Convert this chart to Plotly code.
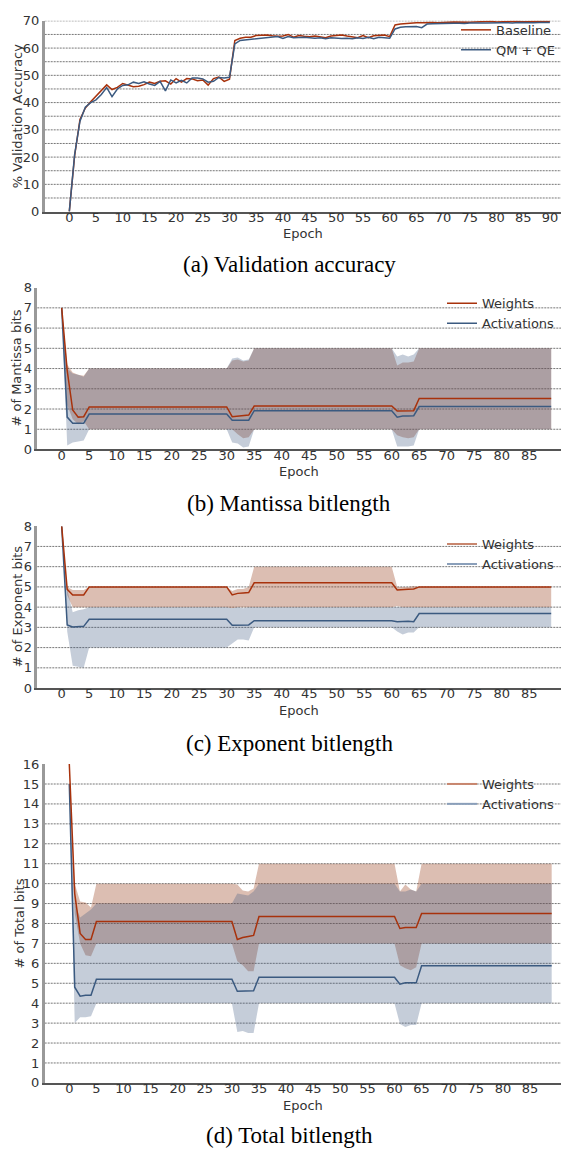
import plotly.graph_objects as go

# ---------------- data ----------------
epochs_acc = list(range(91))

acc_baseline = [
    0.0, 20.5, 33.8, 38.0, 40.3, 42.3, 44.5, 46.5, 44.8, 45.6, 47.0,
    46.3, 45.8, 46.0, 46.6, 47.5, 47.0, 47.8, 48.0, 46.8, 48.8,
    47.5, 48.8, 48.7, 48.0, 48.3, 46.4, 48.8, 49.4, 47.8, 48.6,
    62.8, 63.6, 64.0, 64.0, 64.6, 64.8, 64.8, 64.5, 64.3, 64.4,
    65.0, 64.0, 64.6, 64.3, 64.2, 64.4, 64.1, 63.8, 64.4, 64.7,
    64.8, 64.4, 64.0, 63.8, 64.6, 63.8, 64.5, 64.6, 64.8, 64.2,
    68.5, 68.8, 69.0, 69.2, 69.3, 69.3, 69.4, 69.4, 69.3, 69.5,
    69.5, 69.6, 69.5, 69.6, 69.5, 69.6, 69.7, 69.6, 69.8, 69.6,
    69.7, 69.8, 69.7, 69.8, 69.7, 69.8, 69.7, 69.8, 69.8, 69.8,
]

acc_qm_qe = [
    0.0, 21.0, 33.2, 38.3, 40.0, 41.0, 43.0, 45.5, 42.2, 45.0, 46.3,
    46.5, 47.5, 47.0, 47.6, 46.8, 46.3, 47.8, 44.3, 48.3, 47.2,
    48.2, 47.2, 49.0, 49.0, 48.7, 47.5, 47.8, 49.2, 49.0, 49.3,
    61.5, 62.8, 63.0, 63.2, 63.3, 63.6, 63.8, 64.0, 64.2, 63.5,
    64.2, 63.8, 64.0, 64.0, 63.8, 63.6, 63.8, 63.4, 63.8, 63.6,
    63.5, 63.6, 63.4, 63.8, 63.5, 64.0, 63.4, 64.0, 63.8, 63.6,
    67.0, 67.6, 67.8, 67.9, 67.9, 67.5, 68.8, 68.9, 69.0, 69.0,
    69.0, 69.1, 69.1, 69.0, 69.2, 69.1, 69.2, 69.2, 69.3, 69.2,
    69.3, 69.3, 69.2, 69.4, 69.3, 69.4, 69.3, 69.4, 69.4, 69.4,
]

epochs_bits = list(range(90))

# mantissa bits: weights
mant_w_mean = [
    7.0, 3.9, 1.95, 1.6, 1.62,
    2.1, 2.1, 2.1, 2.1, 2.1, 2.1, 2.1, 2.1, 2.1, 2.1, 2.1, 2.1, 2.1,
    2.1, 2.1, 2.1, 2.1, 2.1, 2.1, 2.1, 2.1, 2.1, 2.1, 2.1, 2.1, 2.1,
    1.62, 1.65, 1.67, 1.7,
    2.15, 2.15, 2.15, 2.15, 2.15, 2.15, 2.15, 2.15, 2.15, 2.15, 2.15, 2.15, 2.15,
    2.15, 2.15, 2.15, 2.15, 2.15, 2.15, 2.15, 2.15, 2.15, 2.15, 2.15, 2.15, 2.15,
    1.9, 1.9, 1.9, 1.92,
    2.52, 2.52, 2.52, 2.52, 2.52, 2.52, 2.52, 2.52, 2.52, 2.52, 2.52, 2.52, 2.52,
    2.52, 2.52, 2.52, 2.52, 2.52, 2.52, 2.52, 2.52, 2.52, 2.52, 2.52, 2.52,
]
mant_w_lo = [
    7.0, 2.2, 1.5, 1.25, 1.4,
    1.0, 1.0, 1.0, 1.0, 1.0, 1.0, 1.0, 1.0, 1.0, 1.0, 1.0, 1.0, 1.0,
    1.0, 1.0, 1.0, 1.0, 1.0, 1.0, 1.0, 1.0, 1.0, 1.0, 1.0, 1.0, 1.0,
    1.0, 0.75, 0.55, 0.6,
    1.0, 1.0, 1.0, 1.0, 1.0, 1.0, 1.0, 1.0, 1.0, 1.0, 1.0, 1.0, 1.0,
    1.0, 1.0, 1.0, 1.0, 1.0, 1.0, 1.0, 1.0, 1.0, 1.0, 1.0, 1.0, 1.0,
    0.7, 0.6, 0.55, 0.6,
    1.0, 1.0, 1.0, 1.0, 1.0, 1.0, 1.0, 1.0, 1.0, 1.0, 1.0, 1.0, 1.0,
    1.0, 1.0, 1.0, 1.0, 1.0, 1.0, 1.0, 1.0, 1.0, 1.0, 1.0, 1.0,
]
mant_w_hi = [
    7.0, 4.2, 3.8, 3.7, 3.65,
    4.0, 4.0, 4.0, 4.0, 4.0, 4.0, 4.0, 4.0, 4.0, 4.0, 4.0, 4.0, 4.0,
    4.0, 4.0, 4.0, 4.0, 4.0, 4.0, 4.0, 4.0, 4.0, 4.0, 4.0, 4.0, 4.0,
    4.4, 4.45, 4.35, 4.4,
    5.0, 5.0, 5.0, 5.0, 5.0, 5.0, 5.0, 5.0, 5.0, 5.0, 5.0, 5.0, 5.0,
    5.0, 5.0, 5.0, 5.0, 5.0, 5.0, 5.0, 5.0, 5.0, 5.0, 5.0, 5.0, 5.0,
    4.15, 4.3, 4.3, 4.35,
    5.0, 5.0, 5.0, 5.0, 5.0, 5.0, 5.0, 5.0, 5.0, 5.0, 5.0, 5.0, 5.0,
    5.0, 5.0, 5.0, 5.0, 5.0, 5.0, 5.0, 5.0, 5.0, 5.0, 5.0, 5.0,
]
# mantissa bits: activations
mant_a_mean = [
    7.0, 1.6, 1.3, 1.3, 1.3,
    1.75, 1.75, 1.75, 1.75, 1.75, 1.75, 1.75, 1.75, 1.75, 1.75, 1.75, 1.75, 1.75,
    1.75, 1.75, 1.75, 1.75, 1.75, 1.75, 1.75, 1.75, 1.75, 1.75, 1.75, 1.75, 1.75,
    1.45, 1.45, 1.42, 1.45,
    1.92, 1.92, 1.92, 1.92, 1.92, 1.92, 1.92, 1.92, 1.92, 1.92, 1.92, 1.92, 1.92,
    1.92, 1.92, 1.92, 1.92, 1.92, 1.92, 1.92, 1.92, 1.92, 1.92, 1.92, 1.92, 1.92,
    1.6, 1.65, 1.65, 1.67,
    2.12, 2.12, 2.12, 2.12, 2.12, 2.12, 2.12, 2.12, 2.12, 2.12, 2.12, 2.12, 2.12,
    2.12, 2.12, 2.12, 2.12, 2.12, 2.12, 2.12, 2.12, 2.12, 2.12, 2.12, 2.12,
]
mant_a_lo = [
    7.0, 0.2, 0.35, 0.4, 0.45,
    1.0, 1.0, 1.0, 1.0, 1.0, 1.0, 1.0, 1.0, 1.0, 1.0, 1.0, 1.0, 1.0,
    1.0, 1.0, 1.0, 1.0, 1.0, 1.0, 1.0, 1.0, 1.0, 1.0, 1.0, 1.0, 1.0,
    0.35, 0.3, 0.1, 0.15,
    1.0, 1.0, 1.0, 1.0, 1.0, 1.0, 1.0, 1.0, 1.0, 1.0, 1.0, 1.0, 1.0,
    1.0, 1.0, 1.0, 1.0, 1.0, 1.0, 1.0, 1.0, 1.0, 1.0, 1.0, 1.0, 1.0,
    0.15, 0.15, 0.15, 0.2,
    1.0, 1.0, 1.0, 1.0, 1.0, 1.0, 1.0, 1.0, 1.0, 1.0, 1.0, 1.0, 1.0,
    1.0, 1.0, 1.0, 1.0, 1.0, 1.0, 1.0, 1.0, 1.0, 1.0, 1.0, 1.0,
]
mant_a_hi = [
    7.0, 4.0, 3.75, 3.7, 3.6,
    4.0, 4.0, 4.0, 4.0, 4.0, 4.0, 4.0, 4.0, 4.0, 4.0, 4.0, 4.0, 4.0,
    4.0, 4.0, 4.0, 4.0, 4.0, 4.0, 4.0, 4.0, 4.0, 4.0, 4.0, 4.0, 4.0,
    4.5, 4.55, 4.4, 4.45,
    5.0, 5.0, 5.0, 5.0, 5.0, 5.0, 5.0, 5.0, 5.0, 5.0, 5.0, 5.0, 5.0,
    5.0, 5.0, 5.0, 5.0, 5.0, 5.0, 5.0, 5.0, 5.0, 5.0, 5.0, 5.0, 5.0,
    4.6, 4.7, 4.6, 4.7,
    5.0, 5.0, 5.0, 5.0, 5.0, 5.0, 5.0, 5.0, 5.0, 5.0, 5.0, 5.0, 5.0,
    5.0, 5.0, 5.0, 5.0, 5.0, 5.0, 5.0, 5.0, 5.0, 5.0, 5.0, 5.0,
]

# exponent bits: weights
exp_w_mean = [
    8.0, 4.88, 4.6, 4.6, 4.6,
    5.0, 5.0, 5.0, 5.0, 5.0, 5.0, 5.0, 5.0, 5.0, 5.0, 5.0, 5.0, 5.0,
    5.0, 5.0, 5.0, 5.0, 5.0, 5.0, 5.0, 5.0, 5.0, 5.0, 5.0, 5.0, 5.0,
    4.6, 4.68, 4.7, 4.72,
    5.2, 5.2, 5.2, 5.2, 5.2, 5.2, 5.2, 5.2, 5.2, 5.2, 5.2, 5.2, 5.2,
    5.2, 5.2, 5.2, 5.2, 5.2, 5.2, 5.2, 5.2, 5.2, 5.2, 5.2, 5.2, 5.2,
    4.85, 4.88, 4.88, 4.9,
    5.0, 5.0, 5.0, 5.0, 5.0, 5.0, 5.0, 5.0, 5.0, 5.0, 5.0, 5.0, 5.0,
    5.0, 5.0, 5.0, 5.0, 5.0, 5.0, 5.0, 5.0, 5.0, 5.0, 5.0, 5.0,
]
exp_w_lo = [
    8.0, 4.6, 4.0, 4.0, 4.0,
    4.0, 4.0, 4.0, 4.0, 4.0, 4.0, 4.0, 4.0, 4.0, 4.0, 4.0, 4.0, 4.0,
    4.0, 4.0, 4.0, 4.0, 4.0, 4.0, 4.0, 4.0, 4.0, 4.0, 4.0, 4.0, 4.0,
    3.95, 4.0, 4.0, 4.0,
    4.0, 4.0, 4.0, 4.0, 4.0, 4.0, 4.0, 4.0, 4.0, 4.0, 4.0, 4.0, 4.0,
    4.0, 4.0, 4.0, 4.0, 4.0, 4.0, 4.0, 4.0, 4.0, 4.0, 4.0, 4.0, 4.0,
    4.05, 4.0, 4.0, 4.0,
    4.0, 4.0, 4.0, 4.0, 4.0, 4.0, 4.0, 4.0, 4.0, 4.0, 4.0, 4.0, 4.0,
    4.0, 4.0, 4.0, 4.0, 4.0, 4.0, 4.0, 4.0, 4.0, 4.0, 4.0, 4.0,
]
exp_w_hi = [
    8.0, 5.0, 4.85, 4.85, 4.85,
    5.0, 5.0, 5.0, 5.0, 5.0, 5.0, 5.0, 5.0, 5.0, 5.0, 5.0, 5.0, 5.0,
    5.0, 5.0, 5.0, 5.0, 5.0, 5.0, 5.0, 5.0, 5.0, 5.0, 5.0, 5.0, 5.0,
    4.8, 4.9, 4.9, 5.0,
    6.0, 6.0, 6.0, 6.0, 6.0, 6.0, 6.0, 6.0, 6.0, 6.0, 6.0, 6.0, 6.0,
    6.0, 6.0, 6.0, 6.0, 6.0, 6.0, 6.0, 6.0, 6.0, 6.0, 6.0, 6.0, 6.0,
    5.0, 5.0, 5.0, 5.05,
    5.0, 5.0, 5.0, 5.0, 5.0, 5.0, 5.0, 5.0, 5.0, 5.0, 5.0, 5.0, 5.0,
    5.0, 5.0, 5.0, 5.0, 5.0, 5.0, 5.0, 5.0, 5.0, 5.0, 5.0, 5.0,
]
# exponent bits: activations
exp_a_mean = [
    8.0, 3.12, 3.02, 3.03, 3.05,
    3.4, 3.4, 3.4, 3.4, 3.4, 3.4, 3.4, 3.4, 3.4, 3.4, 3.4, 3.4, 3.4,
    3.4, 3.4, 3.4, 3.4, 3.4, 3.4, 3.4, 3.4, 3.4, 3.4, 3.4, 3.4, 3.4,
    3.1, 3.1, 3.1, 3.12,
    3.33, 3.33, 3.33, 3.33, 3.33, 3.33, 3.33, 3.33, 3.33, 3.33, 3.33, 3.33, 3.33,
    3.33, 3.33, 3.33, 3.33, 3.33, 3.33, 3.33, 3.33, 3.33, 3.33, 3.33, 3.33, 3.33,
    3.28, 3.3, 3.3, 3.28,
    3.68, 3.68, 3.68, 3.68, 3.68, 3.68, 3.68, 3.68, 3.68, 3.68, 3.68, 3.68, 3.68,
    3.68, 3.68, 3.68, 3.68, 3.68, 3.68, 3.68, 3.68, 3.68, 3.68, 3.68, 3.68,
]
exp_a_lo = [
    8.0, 2.8, 1.1, 1.05, 1.0,
    2.0, 2.0, 2.0, 2.0, 2.0, 2.0, 2.0, 2.0, 2.0, 2.0, 2.0, 2.0, 2.0,
    2.0, 2.0, 2.0, 2.0, 2.0, 2.0, 2.0, 2.0, 2.0, 2.0, 2.0, 2.0, 2.0,
    2.2, 2.4, 2.4, 2.35,
    3.0, 3.0, 3.0, 3.0, 3.0, 3.0, 3.0, 3.0, 3.0, 3.0, 3.0, 3.0, 3.0,
    3.0, 3.0, 3.0, 3.0, 3.0, 3.0, 3.0, 3.0, 3.0, 3.0, 3.0, 3.0, 3.0,
    2.8, 2.65, 2.75, 2.75,
    3.0, 3.0, 3.0, 3.0, 3.0, 3.0, 3.0, 3.0, 3.0, 3.0, 3.0, 3.0, 3.0,
    3.0, 3.0, 3.0, 3.0, 3.0, 3.0, 3.0, 3.0, 3.0, 3.0, 3.0, 3.0,
]
exp_a_hi = [
    8.0, 4.9, 3.75, 3.85, 3.9,
    4.0, 4.0, 4.0, 4.0, 4.0, 4.0, 4.0, 4.0, 4.0, 4.0, 4.0, 4.0, 4.0,
    4.0, 4.0, 4.0, 4.0, 4.0, 4.0, 4.0, 4.0, 4.0, 4.0, 4.0, 4.0, 4.0,
    3.95, 4.0, 3.95, 4.0,
    4.0, 4.0, 4.0, 4.0, 4.0, 4.0, 4.0, 4.0, 4.0, 4.0, 4.0, 4.0, 4.0,
    4.0, 4.0, 4.0, 4.0, 4.0, 4.0, 4.0, 4.0, 4.0, 4.0, 4.0, 4.0, 4.0,
    4.0, 4.0, 4.0, 4.0,
    4.0, 4.0, 4.0, 4.0, 4.0, 4.0, 4.0, 4.0, 4.0, 4.0, 4.0, 4.0, 4.0,
    4.0, 4.0, 4.0, 4.0, 4.0, 4.0, 4.0, 4.0, 4.0, 4.0, 4.0, 4.0,
]

# total bits: weights
tot_w_mean = [
    16.0, 9.5, 7.5, 7.2, 7.2,
    8.1, 8.1, 8.1, 8.1, 8.1, 8.1, 8.1, 8.1, 8.1, 8.1, 8.1, 8.1, 8.1,
    8.1, 8.1, 8.1, 8.1, 8.1, 8.1, 8.1, 8.1, 8.1, 8.1, 8.1, 8.1, 8.1,
    7.2, 7.3, 7.35, 7.4,
    8.35, 8.35, 8.35, 8.35, 8.35, 8.35, 8.35, 8.35, 8.35, 8.35, 8.35, 8.35, 8.35,
    8.35, 8.35, 8.35, 8.35, 8.35, 8.35, 8.35, 8.35, 8.35, 8.35, 8.35, 8.35, 8.35,
    7.75, 7.8, 7.8, 7.8,
    8.5, 8.5, 8.5, 8.5, 8.5, 8.5, 8.5, 8.5, 8.5, 8.5, 8.5, 8.5, 8.5,
    8.5, 8.5, 8.5, 8.5, 8.5, 8.5, 8.5, 8.5, 8.5, 8.5, 8.5, 8.5,
]
tot_w_lo = [
    16.0, 8.5, 7.0, 6.4, 6.35,
    7.0, 7.0, 7.0, 7.0, 7.0, 7.0, 7.0, 7.0, 7.0, 7.0, 7.0, 7.0, 7.0,
    7.0, 7.0, 7.0, 7.0, 7.0, 7.0, 7.0, 7.0, 7.0, 7.0, 7.0, 7.0, 7.0,
    6.1, 5.9, 5.6, 5.6,
    7.0, 7.0, 7.0, 7.0, 7.0, 7.0, 7.0, 7.0, 7.0, 7.0, 7.0, 7.0, 7.0,
    7.0, 7.0, 7.0, 7.0, 7.0, 7.0, 7.0, 7.0, 7.0, 7.0, 7.0, 7.0, 7.0,
    5.9, 5.75, 5.65, 5.8,
    7.0, 7.0, 7.0, 7.0, 7.0, 7.0, 7.0, 7.0, 7.0, 7.0, 7.0, 7.0, 7.0,
    7.0, 7.0, 7.0, 7.0, 7.0, 7.0, 7.0, 7.0, 7.0, 7.0, 7.0, 7.0,
]
tot_w_hi = [
    16.0, 10.0, 9.1, 9.05, 8.8,
    10.0, 10.0, 10.0, 10.0, 10.0, 10.0, 10.0, 10.0, 10.0, 10.0, 10.0, 10.0, 10.0,
    10.0, 10.0, 10.0, 10.0, 10.0, 10.0, 10.0, 10.0, 10.0, 10.0, 10.0, 10.0, 10.0,
    9.95, 9.65, 9.6, 9.75,
    11.0, 11.0, 11.0, 11.0, 11.0, 11.0, 11.0, 11.0, 11.0, 11.0, 11.0, 11.0, 11.0,
    11.0, 11.0, 11.0, 11.0, 11.0, 11.0, 11.0, 11.0, 11.0, 11.0, 11.0, 11.0, 11.0,
    9.6, 9.95, 9.7, 9.6,
    11.0, 11.0, 11.0, 11.0, 11.0, 11.0, 11.0, 11.0, 11.0, 11.0, 11.0, 11.0, 11.0,
    11.0, 11.0, 11.0, 11.0, 11.0, 11.0, 11.0, 11.0, 11.0, 11.0, 11.0, 11.0,
]
# total bits: activations
tot_a_mean = [
    15.0, 4.8, 4.35, 4.4, 4.4,
    5.2, 5.2, 5.2, 5.2, 5.2, 5.2, 5.2, 5.2, 5.2, 5.2, 5.2, 5.2, 5.2,
    5.2, 5.2, 5.2, 5.2, 5.2, 5.2, 5.2, 5.2, 5.2, 5.2, 5.2, 5.2, 5.2,
    4.6, 4.6, 4.6, 4.62,
    5.3, 5.3, 5.3, 5.3, 5.3, 5.3, 5.3, 5.3, 5.3, 5.3, 5.3, 5.3, 5.3,
    5.3, 5.3, 5.3, 5.3, 5.3, 5.3, 5.3, 5.3, 5.3, 5.3, 5.3, 5.3, 5.3,
    4.95, 5.02, 5.02, 5.02,
    5.88, 5.88, 5.88, 5.88, 5.88, 5.88, 5.88, 5.88, 5.88, 5.88, 5.88, 5.88, 5.88,
    5.88, 5.88, 5.88, 5.88, 5.88, 5.88, 5.88, 5.88, 5.88, 5.88, 5.88, 5.88,
]
tot_a_lo = [
    15.0, 3.0, 3.3, 3.3, 3.35,
    4.0, 4.0, 4.0, 4.0, 4.0, 4.0, 4.0, 4.0, 4.0, 4.0, 4.0, 4.0, 4.0,
    4.0, 4.0, 4.0, 4.0, 4.0, 4.0, 4.0, 4.0, 4.0, 4.0, 4.0, 4.0, 4.0,
    2.55, 2.6, 2.5, 2.5,
    4.0, 4.0, 4.0, 4.0, 4.0, 4.0, 4.0, 4.0, 4.0, 4.0, 4.0, 4.0, 4.0,
    4.0, 4.0, 4.0, 4.0, 4.0, 4.0, 4.0, 4.0, 4.0, 4.0, 4.0, 4.0, 4.0,
    2.95, 2.8, 2.9, 2.9,
    4.0, 4.0, 4.0, 4.0, 4.0, 4.0, 4.0, 4.0, 4.0, 4.0, 4.0, 4.0, 4.0,
    4.0, 4.0, 4.0, 4.0, 4.0, 4.0, 4.0, 4.0, 4.0, 4.0, 4.0, 4.0,
]
tot_a_hi = [
    15.0, 9.0, 8.3, 8.5, 8.7,
    9.0, 9.0, 9.0, 9.0, 9.0, 9.0, 9.0, 9.0, 9.0, 9.0, 9.0, 9.0, 9.0,
    9.0, 9.0, 9.0, 9.0, 9.0, 9.0, 9.0, 9.0, 9.0, 9.0, 9.0, 9.0, 9.0,
    9.5, 9.45, 9.4, 9.6,
    10.0, 10.0, 10.0, 10.0, 10.0, 10.0, 10.0, 10.0, 10.0, 10.0, 10.0, 10.0, 10.0,
    10.0, 10.0, 10.0, 10.0, 10.0, 10.0, 10.0, 10.0, 10.0, 10.0, 10.0, 10.0, 10.0,
    9.6, 9.6, 9.7, 9.6,
    10.0, 10.0, 10.0, 10.0, 10.0, 10.0, 10.0, 10.0, 10.0, 10.0, 10.0, 10.0, 10.0,
    10.0, 10.0, 10.0, 10.0, 10.0, 10.0, 10.0, 10.0, 10.0, 10.0, 10.0, 10.0,
]

acc_xticks = list(range(0, 91, 5))
bits_xticks = list(range(0, 86, 5))

# ---------------- styling ----------------
FIG_W, FIG_H = 561, 1159
RED = "#a8320c"
BLUE = "#3b5a80"
RED_FILL = "rgba(155,69,35,0.35)"
BLUE_FILL = "rgba(62,88,128,0.30)"
RED_SOFT = "#c8866e"
BLUE_SOFT = "#8a9fba"
SANS = "DejaVu Sans"
TEXT = "#333333"
TICK_FONT = dict(family=SANS, size=13, color=TEXT)
GRID_LINE = dict(color="#777777", width=1, dash="2px,1px")

# panel geometry in pixels: left spine, x of epoch 0, pixels per epoch,
# top and bottom of the plotting area
panels = [
    dict(spine=44.7, zero=69.3, ppe=5.34, top=14.0, bottom=207.3,
         ymax=70, ytick=10, ygrid=5, xticks=acc_xticks,
         ylabel="% Validation Accuracy", ylabel_x=17,
         caption="(a) Validation accuracy", caption_y=261, epoch_y=229,
         legend_top=8, legend_left=456),
    dict(spine=37.3, zero=61.7, ppe=5.5, top=284.3, bottom=448.3,
         ymax=8, ytick=1, ygrid=1, xticks=bits_xticks,
         ylabel="# of Mantissa bits", ylabel_x=17,
         caption="(b) Mantissa bitlength", caption_y=503, epoch_y=471,
         legend_top=285, legend_left=442),
    dict(spine=37.3, zero=61.7, ppe=5.5, top=526.0, bottom=690.0,
         ymax=8, ytick=1, ygrid=1, xticks=bits_xticks,
         ylabel="# of Exponent bits", ylabel_x=17,
         caption="(c) Exponent bitlength", caption_y=746, epoch_y=713,
         legend_top=529, legend_left=442),
    dict(spine=44.7, zero=69.3, ppe=5.42, top=767.0, bottom=1090.0,
         ymax=16, ytick=1, ygrid=1, xticks=bits_xticks,
         ylabel="# of Total bits", ylabel_x=19,
         caption="(d) Total bitlength", caption_y=1143, epoch_y=1113,
         legend_top=772, legend_left=442),
]

fig = go.Figure()


def line_trace(x, y, color, name, axis, legend, show, rank=None, width=1.5):
    return go.Scatter(
        x=x, y=y, mode="lines", name=name,
        line=dict(color=color, width=width),
        xaxis="x" + axis, yaxis="y" + axis,
        legend=legend, showlegend=show, legendrank=rank,
        hoverinfo="skip",
    )


def band(x, lo, hi, fill, axis, legend):
    fig.add_trace(go.Scatter(x=x, y=lo, mode="lines", line=dict(width=0),
                             xaxis="x" + axis, yaxis="y" + axis, legend=legend,
                             showlegend=False, hoverinfo="skip"))
    fig.add_trace(go.Scatter(x=x, y=hi, mode="lines", line=dict(width=0),
                             fill="tonexty", fillcolor=fill,
                             xaxis="x" + axis, yaxis="y" + axis, legend=legend,
                             showlegend=False, hoverinfo="skip"))


# (a) validation accuracy
fig.add_trace(line_trace(epochs_acc, acc_baseline, RED, "Baseline", "", "legend", True, 1))
fig.add_trace(line_trace(epochs_acc, acc_qm_qe, BLUE, "QM + QE", "", "legend", True, 2))

# (b)-(d) bitlength bands (weights below activations) and means
bit_series = [
    ("2", "legend2", mant_w_mean, mant_w_lo, mant_w_hi, mant_a_mean, mant_a_lo, mant_a_hi, False),
    ("3", "legend3", exp_w_mean, exp_w_lo, exp_w_hi, exp_a_mean, exp_a_lo, exp_a_hi, True),
    ("4", "legend4", tot_w_mean, tot_w_lo, tot_w_hi, tot_a_mean, tot_a_lo, tot_a_hi, True),
]
for ax, leg, w_mean, w_lo, w_hi, a_mean, a_lo, a_hi, soft_legend in bit_series:
    band(epochs_bits, w_lo, w_hi, RED_FILL, ax, leg)
    band(epochs_bits, a_lo, a_hi, BLUE_FILL, ax, leg)
    fig.add_trace(line_trace(epochs_bits, a_mean, BLUE, "Activations", ax, leg,
                             not soft_legend, 2))
    fig.add_trace(line_trace(epochs_bits, w_mean, RED, "Weights", ax, leg,
                             not soft_legend, 1))
    if soft_legend:
        fig.add_trace(line_trace([None], [None], RED_SOFT, "Weights", ax, leg, True, 1, 2))
        fig.add_trace(line_trace([None], [None], BLUE_SOFT, "Activations", ax, leg, True, 2, 2))

layout = dict(
    width=FIG_W, height=FIG_H,
    margin=dict(l=0, r=0, t=0, b=0),
    paper_bgcolor="white", plot_bgcolor="white",
    showlegend=True,
    font=dict(family=SANS, size=13, color=TEXT),
)

shapes = []
annotations = []
for i, p in enumerate(panels):
    suffix = "" if i == 0 else str(i + 1)
    x_lo = -(p["zero"] - p["spine"]) / p["ppe"]
    x_hi = (FIG_W - p["zero"]) / p["ppe"]
    layout["xaxis" + suffix] = dict(
        domain=[p["spine"] / FIG_W, 1.0],
        range=[x_lo, x_hi],
        anchor="y" + suffix,
        showline=True, linecolor="#555555", linewidth=1.5,
        showgrid=False, zeroline=False, ticks="", ticklen=0,
        ticklabelstandoff=-7,
        tickmode="array", tickvals=p["xticks"],
        tickfont=TICK_FONT,
    )
    layout["yaxis" + suffix] = dict(
        domain=[1 - p["bottom"] / FIG_H, 1 - p["top"] / FIG_H],
        range=[0, p["ymax"]],
        anchor="x" + suffix,
        showline=True, linecolor="#999999", linewidth=2.5,
        showgrid=False, zeroline=False, ticks="", ticklen=0,
        tickmode="array", tickvals=list(range(0, p["ymax"] + 1, p["ytick"])),
        tickfont=TICK_FONT,
    )
    leg_name = "legend" if i == 0 else "legend" + str(i + 1)
    layout[leg_name] = dict(
        x=p["legend_left"] / FIG_W, y=1 - p["legend_top"] / FIG_H,
        xanchor="left", yanchor="top", traceorder="normal",
        bgcolor="rgba(0,0,0,0)", borderwidth=0,
        font=dict(family=SANS, size=13, color=TEXT),
        itemwidth=30, tracegroupgap=0,
    )
    # dotted horizontal grid
    grid_top = p["ymax"] if i == 0 else p["ymax"] - p["ygrid"]
    for v in range(p["ygrid"], grid_top + 1, p["ygrid"]):
        shapes.append(dict(
            type="line", xref="x" + suffix + " domain", x0=0, x1=1,
            yref="y" + suffix, y0=v, y1=v, line=GRID_LINE, layer="below",
        ))
    annotations.append(dict(
        text=p["ylabel"], textangle=-90, showarrow=False,
        xref="paper", yref="paper",
        x=p["ylabel_x"] / FIG_W, y=1 - (p["top"] + p["bottom"]) / 2 / FIG_H,
        xanchor="center", yanchor="middle",
        font=dict(family=SANS, size=13, color=TEXT),
    ))
    annotations.append(dict(
        text="Epoch", showarrow=False, xref="paper", yref="paper",
        x=(p["spine"] + FIG_W) / 2 / FIG_W, y=1 - p["epoch_y"] / FIG_H,
        xanchor="center", yanchor="middle",
        font=dict(family=SANS, size=13, color=TEXT),
    ))
    annotations.append(dict(
        text=p["caption"], showarrow=False, xref="paper", yref="paper",
        x=289 / FIG_W, y=1 - p["caption_y"] / FIG_H,
        xanchor="center", yanchor="middle",
        font=dict(family="Liberation Serif", size=23, color="black"),
    ))

layout["shapes"] = shapes
layout["annotations"] = annotations
fig.update_layout(**layout)

fig.write_html("out.html")
